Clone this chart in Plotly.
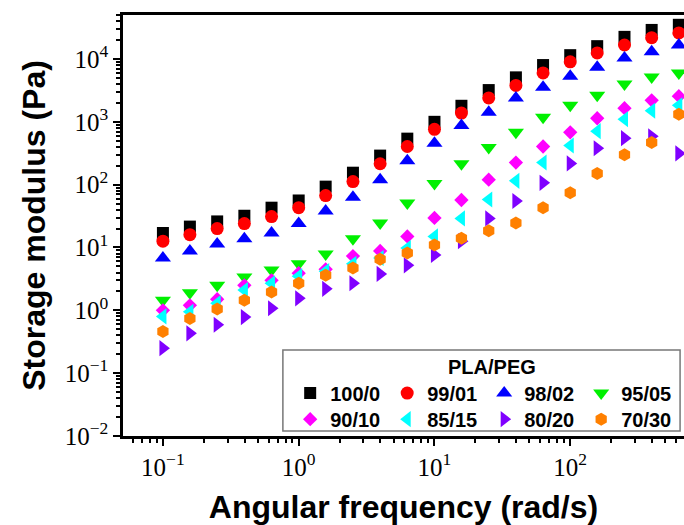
import plotly.graph_objects as go

# Angular frequency sweep (rad/s), five points per decade
freq = [0.1, 0.158, 0.251, 0.398, 0.631, 1.0, 1.58, 2.51, 3.98, 6.31,
        10, 15.8, 25.1, 39.8, 63.1, 100, 158, 251, 398, 631]

# Storage modulus G' (Pa) for each PLA/PEG blend ratio
g_100_0 = [17, 21.5, 26, 32, 43, 56, 93, 155, 290, 540,
           1000, 1800, 3200, 5100, 8000, 11500, 16000, 22500, 29000, 35000]
g_99_01 = [12.6, 16, 20, 24, 31, 43, 67, 112, 215, 405,
           760, 1380, 2400, 3800, 6000, 9000, 12500, 16700, 21800, 26000]
g_98_02 = [6.8, 8.8, 11.4, 13.8, 17, 24, 38, 63, 120, 240,
           455, 870, 1420, 2400, 3550, 5300, 7400, 10400, 13000, 16700]
g_95_05 = [1.45, 1.9, 2.5, 3.4, 4.4, 5.5, 7.9, 13.8, 24.5, 51,
           104, 215, 390, 680, 1180, 1830, 2650, 4000, 5150, 6000]
g_90_10 = [1.0, 1.2, 1.5, 2.5, 3.0, 3.9, 4.5, 7.3, 8.8, 15,
           29.5, 57, 120, 225, 405, 680, 1140, 1650, 2200, 2560]
g_85_15 = [0.8, 0.95, 1.3, 2.1, 2.7, 3.5, 4.2, 5.5, 6.8, 9.8,
           15, 29, 58, 115, 225, 420, 710, 1100, 1500, 1830]
g_80_20 = [0.25, 0.43, 0.59, 0.78, 1.08, 1.55, 2.2, 2.7, 3.8, 5.2,
           7.6, 12.6, 29, 55, 107, 218, 380, 550, 590, 315]
g_70_30 = [0.46, 0.74, 1.05, 1.45, 1.95, 2.7, 3.6, 4.7, 6.5, 8.2,
           11, 14, 18.4, 24.6, 43, 74, 150, 300, 470, 1320]

blend_names = ["100/0", "99/01", "98/02", "95/05", "90/10", "85/15", "80/20", "70/30"]
blend_values = [g_100_0, g_99_01, g_98_02, g_95_05, g_90_10, g_85_15, g_80_20, g_70_30]

# Axis tick labels
x_tick_vals = [0.1, 1, 10, 100]
x_tick_text = ["10<sup>\u22121</sup>", "10<sup>0</sup>", "10<sup>1</sup>", "10<sup>2</sup>"]
y_tick_vals = [0.01, 0.1, 1, 10, 100, 1000, 10000]
y_tick_text = ["10<sup>\u22122</sup>", "10<sup>\u22121</sup>", "10<sup>0</sup>", "10<sup>1</sup>",
               "10<sup>2</sup>", "10<sup>3</sup>", "10<sup>4</sup>"]

symbols = ["square", "circle", "triangle-up", "triangle-down",
           "diamond", "triangle-left", "triangle-right", "hexagon"]
colors = ["#000000", "#FF0000", "#0000FF", "#00F000",
          "#FF00FF", "#00FFFF", "#8000FF", "#FF8000"]
sizes = [12, 13, 14, 14, 11, 14, 14, 13]

fig = go.Figure()
for i, (name, vals) in enumerate(zip(blend_names, blend_values)):
    fig.add_trace(go.Scatter(
        x=freq, y=vals, name=name, mode="markers",
        marker=dict(symbol=symbols[i], color=colors[i], size=sizes[i], line=dict(width=0)),
        legend="legend" if i < 4 else "legend2",
    ))

minor_x = [m * 10 ** e for e in range(-2, 3) for m in range(2, 10)]
minor_y = [m * 10 ** e for e in range(-2, 5) for m in range(2, 10)]

tick_font = dict(family="Liberation Serif", size=25, color="black")
title_font = dict(family="Liberation Sans", size=32, color="black", weight="bold")
legend_font = dict(family="Liberation Sans", size=20, color="black", weight="bold")

fig.update_layout(
    width=684, height=525,
    margin=dict(l=123, r=0, t=15, b=89),
    plot_bgcolor="white", paper_bgcolor="white",
    showlegend=True,
    xaxis=dict(
        type="log", range=[-1.294, 2.838],
        tickmode="array", tickvals=x_tick_vals, ticktext=x_tick_text,
        ticks="outside", ticklen=7, tickwidth=2, tickcolor="black",
        minor=dict(tickmode="array", tickvals=minor_x, ticks="outside",
                   ticklen=4, tickwidth=1.5, tickcolor="black", showgrid=False),
        showline=True, linewidth=2.5, linecolor="black", mirror=True,
        showgrid=False, zeroline=False,
        tickfont=tick_font,
        title=dict(text="Angular frequency (rad/s)", font=title_font, standoff=18),
    ),
    yaxis=dict(
        type="log", range=[-2, 4.70],
        tickmode="array", tickvals=y_tick_vals, ticktext=y_tick_text,
        ticks="outside", ticklen=7, tickwidth=2, tickcolor="black",
        minor=dict(tickmode="array", tickvals=minor_y, ticks="outside",
                   ticklen=4, tickwidth=1.5, tickcolor="black", showgrid=False),
        showline=True, linewidth=2.5, linecolor="black", mirror=False,
        showgrid=False, zeroline=False,
        tickfont=tick_font,
        title=dict(text="Storage modulus (Pa)", font=title_font, standoff=10),
    ),
    legend=dict(
        orientation="h", x=0.298, y=0.102, xanchor="left", yanchor="middle",
        entrywidth=52, entrywidthmode="pixels",
        font=legend_font, bgcolor="rgba(0,0,0,0)", borderwidth=0,
        itemsizing="trace",
    ),
    legend2=dict(
        orientation="h", x=0.298, y=0.040, xanchor="left", yanchor="middle",
        entrywidth=52, entrywidthmode="pixels",
        font=legend_font, bgcolor="rgba(0,0,0,0)", borderwidth=0,
        itemsizing="trace",
    ),
    shapes=[dict(
        type="rect", xref="paper", yref="paper",
        x0=0.285, x1=0.993, y0=0.012, y1=0.204,
        line=dict(color="#777777", width=1.5), fillcolor="white", layer="above",
    )],
    annotations=[dict(
        text="PLA/PEG", xref="paper", yref="paper", x=0.658, y=0.164,
        xanchor="center", yanchor="middle", showarrow=False,
        font=legend_font,
    )],
)

fig.write_html("out.html")
